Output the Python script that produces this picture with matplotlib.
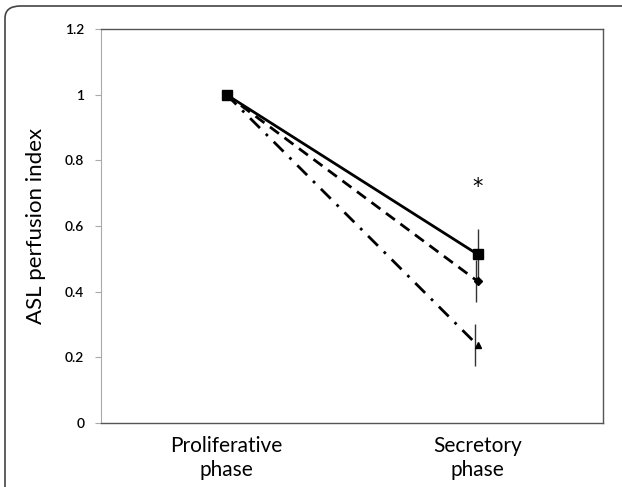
import numpy as np
import matplotlib.pyplot as plt
from matplotlib.patches import FancyBboxPatch

phases = ['Proliferative\nphase', 'Secretory\nphase']
solid_vals = [1.0, 0.514]
solid_err = [0.0, 0.077]
dashed_vals = [1.0, 0.432]
dashed_err = [0.0, 0.063]
dashdot_vals = [1.0, 0.237]
dashdot_err = [0.0, 0.064]
star_y = 0.72

plt.rcParams['font.family'] = ['Lato', 'DejaVu Sans']

fig = plt.figure(figsize=(6.22, 4.87), dpi=100)
ax = fig.add_axes([0.1624, 0.1314, 0.8071, 0.809])

x = np.arange(len(phases))
ax.plot(x, dashdot_vals, color='black', lw=2, ls=(0, (5, 3, 1, 3)),
        marker='^', ms=5, zorder=3)
ax.plot(x, dashed_vals, color='black', lw=2, ls=(0, (4, 2.5)),
        marker='D', ms=4, zorder=3)
ax.plot(x, solid_vals, color='black', lw=2, ls='-',
        marker='s', ms=7, zorder=4)

# error bars, slightly offset like in the original
ax.errorbar(x[1] - 0.01, dashdot_vals[1], yerr=dashdot_err[1], fmt='none',
            ecolor='#333333', elinewidth=1, capsize=0)
ax.errorbar(x[1] - 0.005, dashed_vals[1], yerr=dashed_err[1], fmt='none',
            ecolor='#333333', elinewidth=1, capsize=0)
ax.errorbar(x[1], solid_vals[1], yerr=solid_err[1], fmt='none',
            ecolor='#333333', elinewidth=1, capsize=0)

ax.text(x[1], star_y, '*', ha='center', va='center', fontsize=15,
        family='DejaVu Sans')

ax.set_xlim(-0.5, 1.5)
ax.set_ylim(0, 1.2)
ax.set_yticks(np.arange(0, 1.21, 0.2))
ax.set_yticklabels(['0', '0.2', '0.4', '0.6', '0.8', '1', '1.2'])
ax.set_xticks(x)
ax.set_xticklabels(phases, fontsize=15, linespacing=1.25)
ax.tick_params(axis='x', length=0, pad=9)
ax.tick_params(axis='y', length=4, color='#aaaaaa', labelsize=10, pad=8)
for lab in ax.get_yticklabels():
    lab.set_fontweight('semibold')
ax.set_ylabel('ASL perfusion index', fontsize=16, labelpad=14)

ax.spines['left'].set_color('#aaaaaa')
for s in ['top', 'right', 'bottom']:
    ax.spines[s].set_color('#555555')
    ax.spines[s].set_linewidth(1)

# rounded outer frame (cropped by the image edges)
frame = FancyBboxPatch((5 / 622, -0.2), 1.2, 1.2 - 6 / 487,
                       boxstyle='round,pad=0,rounding_size=0.025',
                       transform=fig.transFigure, fill=False,
                       edgecolor='#444444', lw=1.2)
fig.patches.append(frame)

fig.savefig('out.png', dpi=100)
